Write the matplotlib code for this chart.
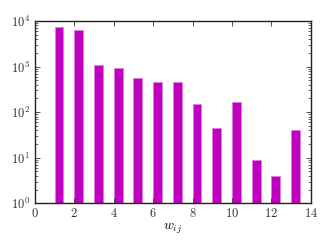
import numpy as np
import matplotlib
matplotlib.use("Agg")
import matplotlib.pyplot as plt
from matplotlib.ticker import FuncFormatter, LogLocator, FixedLocator

# --- data ---
weights = [1, 2, 3, 4, 5, 6, 7, 8, 9, 10, 11, 12, 13]
counts = [7400, 6400, 1090, 930, 560, 450, 450, 150, 45, 170, 8.9, 4.0, 40]
x_ticks = [0, 2, 4, 6, 8, 10, 12, 14]
y_decades = [1, 10, 100, 1000, 10000]

plt.rcParams['mathtext.fontset'] = 'cm'
plt.rcParams['font.family'] = 'serif'
plt.rcParams['font.serif'] = ['DejaVu Serif']

fig = plt.figure(figsize=(3.32, 2.49), dpi=100)
ax = fig.add_axes([0.105, 0.1835, 0.831, 0.732])

ax.bar(weights, counts, width=0.45, align='edge', color=(0.75, 0, 0.75),
       edgecolor='#e07ae0', linewidth=0.6)

ax.set_yscale('log')
ax.set_ylim(1, 1e4)
ax.set_xlim(0, 14)

ax.xaxis.set_major_locator(FixedLocator(x_ticks))
ax.xaxis.set_major_formatter(FuncFormatter(lambda v, p: r'$%d$' % v))
ax.yaxis.set_major_locator(FixedLocator(y_decades))
ax.yaxis.set_minor_locator(LogLocator(base=10, subs=np.arange(2, 10)))
ax.yaxis.set_major_formatter(FuncFormatter(lambda v, p: r'$10^{%d}$' % round(np.log10(v))))

ax.tick_params(which='both', direction='in', top=True, right=True, labelsize=9, colors='#333333')
ax.tick_params(which='major', length=3.5, width=0.6)
ax.tick_params(which='minor', length=2, width=0.5)
ax.tick_params(axis='x', pad=3)
for s in ax.spines.values():
    s.set_linewidth(1.0)
    s.set_color('#222222')

ax.set_xlabel(r'$w_{ij}$', fontsize=10, labelpad=1)

fig.savefig('out.png', dpi=100)
